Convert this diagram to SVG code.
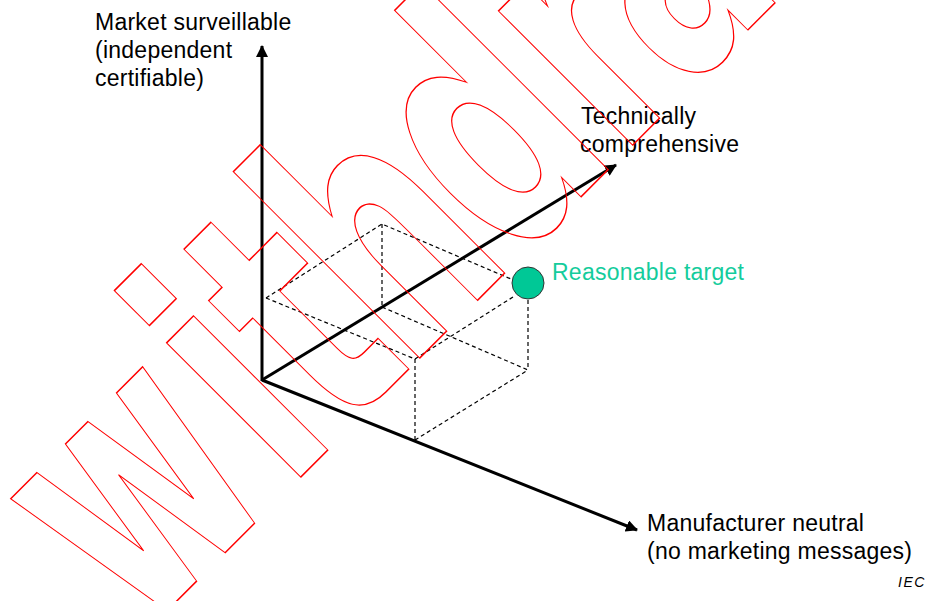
<svg xmlns="http://www.w3.org/2000/svg" width="926" height="601" viewBox="0 0 926 601">
  <style>
    .lbl { font-family: "Liberation Sans", Arial, sans-serif; font-size: 23px; letter-spacing: 0.25px; fill: #000; }
    .axis { stroke: #000; stroke-width: 3; fill: none; }
    .guide { stroke: #000; stroke-width: 1.2; stroke-dasharray: 4 3; fill: none; }
    .mark { font-family: "DejaVu Sans", sans-serif; font-weight: bold; fill: none; stroke: #ff0000; stroke-width: 1.5; }
  </style>
  <defs>
    <marker id="head" viewBox="0 0 12 12" refX="11" refY="6" markerWidth="12" markerHeight="12" markerUnits="userSpaceOnUse" orient="auto">
      <path d="M0,0 L12,6 L0,12 Z" fill="#000"/>
    </marker>
  </defs>
  <rect width="926" height="601" fill="#fff"/>

  <!-- dashed construction box -->
  <g id="box">
    <path class="guide" d="M266,298 L382,224 L511,279"/>
    <path class="guide" d="M266,298 L415,359 L513,297"/>
    <path class="guide" d="M382,224 L382,307"/>
    <path class="guide" d="M382,307 L528,370"/>
    <path class="guide" d="M415,359 L415,440"/>
    <path class="guide" d="M415,440 L528,370"/>
    <path class="guide" d="M528,300 L528,370"/>
  </g>

  <!-- axes -->
  <g id="connectors">
    <line class="axis" x1="262" y1="381" x2="262" y2="46" marker-end="url(#head)"/>
    <line class="axis" x1="262" y1="380" x2="616" y2="165" stroke-width="2.6" marker-end="url(#head)"/>
    <line class="axis" x1="262" y1="380" x2="637" y2="530" marker-end="url(#head)"/>
  </g>

  <g id="axis-market">
    <text class="lbl" x="95" y="30">Market surveillable</text>
    <text class="lbl" x="95" y="58">(independent</text>
    <text class="lbl" x="95" y="86">certifiable)</text>
  </g>
  <g id="axis-technical">
    <text class="lbl" x="581" y="124">Technically</text>
    <text class="lbl" x="580" y="152">comprehensive</text>
  </g>
  <g id="axis-neutral">
    <text class="lbl" x="647" y="531">Manufacturer neutral</text>
    <text class="lbl" x="647" y="559">(no marketing messages)</text>
  </g>
  <g id="target">
    <circle cx="528" cy="283" r="16" fill="#00c896" stroke="#333" stroke-width="1"/>
    <text class="lbl" x="552" y="280" style="fill:#14cc9c">Reasonable target</text>
  </g>

  <text x="898" y="587" font-family="Liberation Sans, Arial, sans-serif" font-style="italic" font-size="14" letter-spacing="1.5">IEC</text>

  <!-- status stamp, set along a 45 degree baseline -->
  <text class="mark" font-size="347" transform="translate(388.9,388.9) rotate(-45) scale(0.63,1)" x="-560 -227 -108 40 273 518 660 881 1206" y="0">withdrawn</text>
</svg>
